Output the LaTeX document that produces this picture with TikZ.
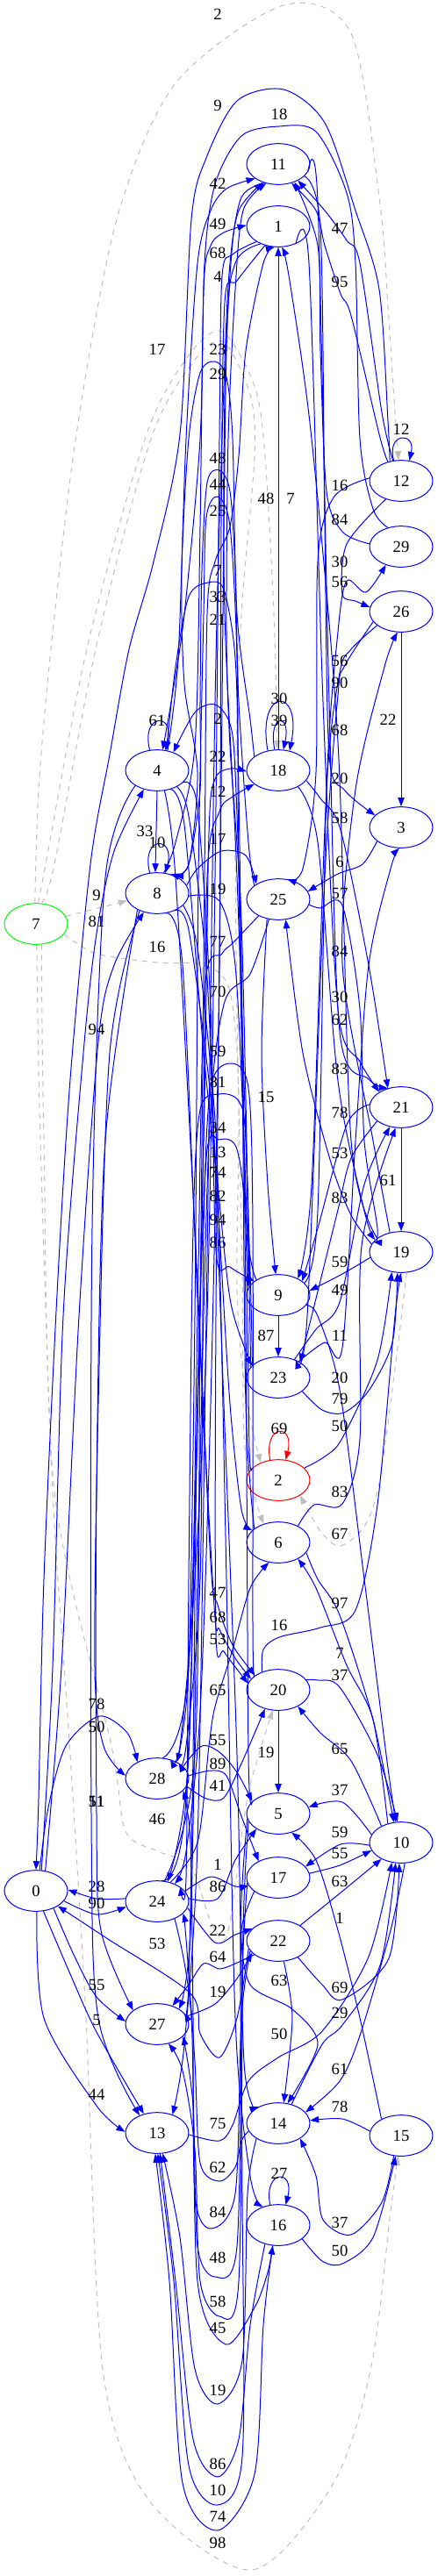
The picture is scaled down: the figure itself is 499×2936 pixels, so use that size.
\documentclass[tikz,border=0pt]{standalone}
\usepackage{fontspec}
\setmainfont{Liberation Serif}
\usetikzlibrary{shapes.geometric,arrows.meta}
\begin{document}
\begin{tikzpicture}[x=0.75pt,y=-0.75pt,
  st/.style={ellipse,draw=blue,line width=0.75pt,minimum width=54pt,minimum height=35pt,inner sep=0pt,font=\fontsize{14}{16}\selectfont},
  lb/.style={inner sep=0pt,font=\fontsize{14}{16}\selectfont},
  e/.style={draw=blue,line width=0.75pt,-{Triangle[length=7.5pt,width=5.5pt]}},
  g/.style={draw=black!25,line width=0.75pt,dash pattern=on 4.5pt off 4.5pt,-{Triangle[length=7.5pt,width=5.5pt]}},
]
\useasboundingbox (0,0) rectangle (499,2936);
% nodes
\node[st] (n11) at (317,187) {11};
\node[st] (n1) at (317,258) {1};
\node[st] (n12) at (457,548) {12};
\node[st] (n29) at (457,623) {29};
\node[st] (n26) at (457,697) {26};
\node[st] (n4) at (179,878) {4};
\node[st] (n18) at (317,878) {18};
\node[st] (n3) at (457,943) {3};
\node[st] (n8) at (179,1018) {8};
\node[st] (n25) at (317,1025) {25};
\node[st,draw=green] (n7) at (41,1053) {7};
\node[st] (n21) at (457,1262) {21};
\node[st] (n19) at (457,1427) {19};
\node[st] (n9) at (317,1476) {9};
\node[st] (n23) at (317,1570) {23};
\node[st,draw=red] (n2) at (317,1687) {2};
\node[st] (n6) at (317,1758) {6};
\node[st] (n20) at (317,1926) {20};
\node[st] (n28) at (179,2027) {28};
\node[st] (n5) at (317,2067) {5};
\node[st] (n10) at (457,2100) {10};
\node[st] (n17) at (317,2140) {17};
\node[st] (n0) at (41,2155) {0};
\node[st] (n24) at (179,2167) {24};
\node[st] (n22) at (317,2212) {22};
\node[st] (n27) at (179,2307) {27};
\node[st] (n14) at (317,2420) {14};
\node[st] (n13) at (179,2431) {13};
\node[st] (n15) at (457,2434) {15};
\node[st] (n16) at (317,2536) {16};

% gray dashed edges
\draw[g] plot[smooth] coordinates {(n7.93) (44,900) (58,740) (87,495) (133,250) (200,95) (323,6) (400,38) (433,233) (442,350) (450,470) (n12.97)};
\draw[g] plot[smooth] coordinates {(n7.84) (52,985) (100,735) (167,495) (215,405) (253,378) (290,440) (302,520) (312,700) (n18.92)};
\draw[g] plot[smooth] coordinates {(n7.75) (62,985) (110,735) (172,500) (222,410) (255,390) (285,450) (290,520) (275,700) (268,900) (270,1150) (276,1450) (279,1650) (n6.128)};
\draw[g] (n7) -- (n8);
\draw[g] plot[smooth] coordinates {(n7.-20) (110,1087) (179,1097) (233,1100) (262,1130) (272,1250) (270,1470) (280,1590) (n2.135)};
\draw[g] plot[smooth] coordinates {(n7.-75) (50,1300) (62,1700) (127,1990) (143,2087) (180,2110) (217,2127) (240,2190) (257,2210) (268,2150) (283,2043) (n20.-105)};
\draw[g] plot[smooth] coordinates {(n7.-88) (46,1300) (60,1700) (80,2000) (98,2300) (117,2700) (170,2850) (287,2929) (380,2830) (423,2697) (445,2520) (n15.-98)};
\draw[g] plot[smooth] coordinates {(n19.-75) (450,1560) (432,1690) (415,1740) (387,1762) (365,1745) (n2.-35)};

% self loops
\draw[e] (n12.110) .. controls (440,492) and (474,492) .. (n12.68);
\draw[e] (n4.110) .. controls (160,812) and (200,812) .. (n4.68);
\draw[e] (n8.110) .. controls (160,952) and (200,952) .. (n8.68);
\draw[e] (n18.118) .. controls (292,782) and (345,782) .. (n18.60);
\draw[e] (n18.100) .. controls (305,812) and (332,812) .. (n18.76);
\draw[e,draw=red] (n2.112) .. controls (300,1622) and (336,1622) .. (n2.70);
\draw[e] (n16.112) .. controls (300,2472) and (336,2472) .. (n16.70);

% flat edges
\draw[e] (n4.-90) -- (n8.95);
\draw[e] (n26) -- (n3);
\draw[e] (n21) -- (n19);
\draw[e] plot[smooth] coordinates {(n25.-120) (298,1200) (305,1350) (n9.97)};
\draw[e] (n9) -- (n23);
\draw[e] (n20) -- (n5);
\draw[e] (n18) -- (n1);
\draw[e] plot[smooth] coordinates {(n17.-150) (275,2200) (285,2262) (333,2290) (362,2330) (n14.65)};
\draw[e] plot[smooth] coordinates {(n22.-75) (333,2300) (n14.75)};

% long top loops
\draw[e] plot[smooth] coordinates {(n12.120) (442,480) (432,330) (405,240) (370,140) (323,102) (270,115) (235,180) (218,250) (205,495) (175,640) (147,740) (125,860) (103,985) (80,1230) (65,1475) (50,1800) (44,2050) (n0.90)};
\draw[e] plot[smooth] coordinates {(n29.125) (425,580) (410,500) (405,300) (395,220) (360,150) (318,144) (275,155) (245,210) (233,300) (228,500) (210,700) (195,800) (n4.75)};

% column 3 edges
\draw[e] plot[smooth] coordinates {(n4.62) (203,750) (212,500) (225,300) (240,240) (258,215) (n11.-148)};
\draw[e] plot[smooth] coordinates {(n8.72) (200,960) (222,850) (228,600) (232,330) (240,280) (255,265) (n1.178)};
\draw[e] plot[smooth] coordinates {(n1.-145) (265,290) (253,315) (250,500) (245,1000) (236,1500) (222,1800) (205,1990) (n28.55)};
\draw[e] plot[smooth] coordinates {(n1.-125) (270,320) (256,345) (252,600) (250,1100) (240,1600) (228,1950) (212,2110) (n24.45)};
\draw[e] plot[smooth] coordinates {(n18.150) (285,820) (270,700) (265,500) (258,430) (245,412) (228,425) (215,500) (207,650) (210,780) (225,880) (215,985) (n8.55)};
\draw[e] plot[smooth] coordinates {(n11.-125) (275,225) (262,300) (255,440) (245,800) (235,1500) (225,2100) (210,2330) (n13.50)};
\draw[e] plot[smooth] coordinates {(n25.150) (283,960) (272,800) (268,650) (262,560) (250,536) (236,550) (230,650) (228,800) (228,900) (215,985) (n8.45)};
\draw[e] plot[smooth] coordinates {(n9.145) (280,1380) (272,1000) (270,750) (262,600) (248,566) (235,590) (232,700) (226,1000) (222,1500) (215,1900) (n28.40)};
\draw[e] plot[smooth] coordinates {(n24.70) (222,2000) (228,1500) (233,1000) (236,700) (245,640) (262,600) (272,520) (280,400) (300,300) (n1.-100)};
\draw[e] plot[smooth] coordinates {(n6.150) (280,1600) (276,1200) (272,900) (268,750) (255,672) (237,664) (215,680) (200,760) (n4.65)};
\draw[e] plot[smooth] coordinates {(n23.155) (285,1450) (270,1000) (256,700) (256,450) (263,300) (272,240) (n11.-130)};
\draw[e] plot[smooth] coordinates {(n9.160) (283,1400) (275,1050) (262,850) (258,720) (260,500) (268,330) (277,240) (n11.-122)};
\draw[e] plot[smooth] coordinates {(n5.155) (283,2000) (280,1500) (275,1100) (268,880) (262,825) (245,803) (222,812) (n4.48)};
\draw[e] plot[smooth] coordinates {(n28.75) (215,1900) (232,1300) (238,950) (245,888) (262,876) (n18.182)};
\draw[e] plot[smooth] coordinates {(n24.78) (212,2050) (230,1400) (236,1000) (250,925) (265,908) (n18.-150)};
\draw[e] plot[smooth] coordinates {(n8.15) (225,990) (252,970) (280,975) (n25.145)};
\draw[e] plot[smooth] coordinates {(n8.-5) (250,1027) (268,1100) (278,1300) (n9.165)};
\draw[e] plot[smooth] coordinates {(n25.-140) (265,1075) (253,1087) (233,1130) (225,1500) (215,2000) (n24.62)};
\draw[e] plot[smooth] coordinates {(n25.-115) (285,1110) (255,1145) (238,1300) (225,1800) (217,2200) (n27.35)};
\draw[e] plot[smooth] coordinates {(n20.150) (288,1850) (288,1400) (283,1240) (263,1212) (240,1240) (232,1400) (228,1800) (212,1990) (n28.35)};
\draw[e] plot[smooth] coordinates {(n23.160) (285,1520) (280,1300) (272,1255) (250,1247) (228,1265) (220,1400) (215,1800) (212,2140) (n24.32)};
\draw[e] plot[smooth] coordinates {(n2.155) (284,1650) (280,1400) (270,1310) (250,1299) (235,1320) (225,1600) (220,2000) (215,2260) (n27.22)};
\draw[e] plot[smooth] coordinates {(n4.-40) (215,930) (235,1100) (245,1327) (255,1600) (270,2000) (278,2350) (n14.140)};
\draw[e] plot[smooth] coordinates {(n4.-55) (210,940) (232,1200) (248,1350) (262,1480) (280,1540) (n23.155)};
\draw[e] plot[smooth] coordinates {(n8.-25) (225,1080) (243,1250) (249,1377) (258,1800) (268,2300) (285,2480) (n16.130)};
\draw[e] plot[smooth] coordinates {(n8.-45) (215,1060) (240,1250) (250,1404) (262,1600) (275,1720) (n6.155)};
\draw[e] plot[smooth] coordinates {(n4.-25) (225,920) (240,1150) (246,1425) (262,1444) (n9.150)};
\draw[e] plot[smooth] coordinates {(n4.-70) (200,1000) (222,1400) (240,1780) (248,1829) (265,1875) (n20.148)};
\draw[e] plot[smooth] coordinates {(n8.-65) (208,1100) (226,1500) (244,1830) (250,1857) (268,1890) (n20.158)};
\draw[e] plot[smooth] coordinates {(n1.-135) (268,300) (258,400) (252,900) (246,1500) (246,1860) (255,1882) (272,1905) (n20.168)};
\draw[e] plot[smooth] coordinates {(n24.55) (225,2100) (238,1990) (245,1945) (265,1880) (285,1810) (n6.-115)};
\draw[e] plot[smooth] coordinates {(n28.25) (230,1990) (250,1997) (270,2020) (n5.155)};
\draw[e] plot[smooth] coordinates {(n28.5) (240,2018) (258,2024) (275,2070) (n17.140)};
\draw[e] plot[smooth] coordinates {(n28.-15) (235,2050) (255,2049) (275,2010) (n20.-125)};
\draw[e] plot[smooth] coordinates {(n24.20) (240,2139) (268,2150) (n17.-165)};
\draw[e] plot[smooth] coordinates {(n24.5) (248,2164) (268,2120) (n5.-145)};
\draw[e] plot[smooth] coordinates {(n24.-12) (245,2214) (268,2205) (n22.155)};
\draw[e] plot[smooth] coordinates {(n22.-150) (268,2238) (250,2244) (232,2238) (215,2262) (n27.50)};
\draw[e] plot[smooth] coordinates {(n27.15) (245,2284) (270,2255) (n22.-155)};
\draw[e] plot[smooth] coordinates {(n22.-165) (270,2300) (250,2345) (228,2318) (217,2272) (123,2210) (n0.-35)};
\draw[e] plot[smooth] coordinates {(n13.-3) (250,2440) (265,2422) (283,2372) (317,2345) (367,2315) (420,2230) (n10.-115)};
\draw[e] plot[smooth] coordinates {(n14.-165) (275,2440) (268,2470) (250,2486) (228,2465) (222,2350) (212,2210) (n24.-25)};
\draw[e] plot[smooth] coordinates {(n22.-160) (275,2300) (268,2500) (240,2540) (222,2500) (220,2300) (217,2100) (n28.-25)};
\draw[e] plot[smooth] coordinates {(n17.-170) (276,2250) (270,2560) (245,2595) (225,2560) (220,2400) (n27.-25)};
\draw[e] plot[smooth] coordinates {(n5.-165) (277,2200) (272,2600) (250,2640) (228,2600) (222,2450) (208,2360) (n27.-60)};
\draw[e] plot[smooth] coordinates {(n24.-45) (218,2300) (225,2600) (257,2672) (290,2630) (305,2590) (n16.-105)};
\draw[e] plot[smooth] coordinates {(n14.-145) (282,2500) (276,2690) (248,2740) (222,2700) (205,2550) (n13.-75)};
\draw[e] plot[smooth] coordinates {(n16.-125) (285,2650) (272,2780) (248,2823) (220,2780) (200,2600) (n13.-82)};
\draw[e] plot[smooth] coordinates {(n5.-170) (274,2200) (276,2500) (276,2800) (248,2855) (215,2810) (198,2600) (n13.-88)};
\draw[e] plot[smooth] coordinates {(n16.-105) (300,2650) (290,2820) (248,2884) (208,2830) (193,2600) (n13.-95)};

% column 1 edges
\draw[e] plot[smooth] coordinates {(n0.75) (60,1900) (72,1500) (95,1200) (110,1064) (130,970) (n4.-125)};
\draw[e] plot[smooth] coordinates {(n0.65) (70,1900) (90,1500) (112,1187) (130,1100) (n8.-125)};
\draw[e] plot[smooth] coordinates {(n0.80) (55,2060) (75,1990) (113,1956) (145,1975) (n28.140)};
\draw[e] plot[smooth] coordinates {(n8.-135) (125,1200) (112,1600) (108,1900) (118,1990) (n28.175)};
\draw[e] plot[smooth] coordinates {(n8.-140) (120,1300) (110,1700) (110,2067) (115,2200) (n27.150)};
\draw[e] plot[smooth] coordinates {(n4.-145) (120,1000) (105,1400) (104,2067) (112,2300) (n13.135)};
\draw[e] plot[smooth] coordinates {(n24.175) (110,2164) (n0.2)};
\draw[e] plot[smooth] coordinates {(n0.-20) (110,2182) (n24.-170)};
\draw[e] plot[smooth] coordinates {(n0.-45) (85,2230) (110,2276) (n27.175)};
\draw[e] plot[smooth] coordinates {(n0.-70) (80,2250) (110,2316) (n13.125)};
\draw[e] plot[smooth] coordinates {(n0.-88) (50,2300) (110,2400) (n13.178)};

% column 5 edges
\draw[e] plot[smooth] coordinates {(n12.112) (435,470) (410,300) (395,274) (370,240) (n11.-40)};
\draw[e] plot[smooth] coordinates {(n12.125) (432,495) (400,360) (388,335) (370,280) (360,240) (n11.-55)};
\draw[e] plot[smooth] coordinates {(n12.175) (380,567) (362,640) (360,880) (345,990) (n25.65)};
\draw[e] plot[smooth] coordinates {(n29.175) (390,606) (372,560) (365,400) (362,280) (n11.-48)};
\draw[e] plot[smooth] coordinates {(n9.25) (362,1380) (372,900) (385,720) (395,662) (417,675) (n29.-130)};
\draw[e] plot[smooth] coordinates {(n12.-130) (395,620) (390,677) (405,685) (n26.172)};
\draw[e] plot[smooth] coordinates {(n26.-150) (400,740) (387,767) (372,900) (355,1350) (n9.40)};
\draw[e] plot[smooth] coordinates {(n26.-160) (392,760) (385,792) (370,1000) (350,1500) (n23.45)};
\draw[e] plot[smooth] coordinates {(n19.150) (400,1300) (385,846) (355,500) (330,320) (n1.-80)};
\draw[e] plot[smooth] coordinates {(n11.-25) (365,260) (370,600) (375,860) (393,901) (n3.155)};
\draw[e] plot[smooth] coordinates {(n18.-20) (365,910) (388,946) (420,1100) (n21.125)};
\draw[e] plot[smooth] coordinates {(n3.-150) (413,985) (385,996) (n25.15)};
\draw[e] plot[smooth] coordinates {(n25.-10) (365,1035) (390,1032) (410,1150) (415,1300) (430,1400) (n19.160)};
\draw[e] plot[smooth] coordinates {(n19.120) (425,1300) (390,1098) (405,900) (438,760) (n26.-100)};
\draw[e] plot[smooth] coordinates {(n1.-45) (352,300) (368,800) (385,1150) (410,1210) (n21.145)};
\draw[e] plot[smooth] coordinates {(n11.-15) (362,230) (375,800) (387,1176) (420,1230) (n21.125)};
\draw[e] plot[smooth] coordinates {(n18.-40) (362,960) (385,1232) (415,1380) (n19.155)};
\draw[e] plot[smooth] coordinates {(n21.175) (395,1282) (362,1400) (n9.30)};
\draw[e] plot[smooth] coordinates {(n19.165) (400,1385) (377,1325) (345,1200) (n25.-70)};
\draw[e] plot[smooth] coordinates {(n21.-150) (400,1320) (385,1379) (360,1480) (n23.35)};
\draw[e] plot[smooth] coordinates {(n19.-170) (390,1452) (n9.8)};
\draw[e] plot[smooth] coordinates {(n23.48) (360,1515) (387,1484) (415,1350) (n21.-120)};
\draw[e] plot[smooth] coordinates {(n23.38) (370,1530) (390,1536) (405,1300) (420,1100) (445,990) (n3.-95)};
\draw[e] plot[smooth] coordinates {(n9.-20) (362,1500) (387,1584) (415,1800) (440,2000) (n10.105)};
\draw[e] plot[smooth] coordinates {(n23.-30) (367,1607) (392,1610) (420,1585) (447,1530) (n19.-100)};
\draw[e] plot[smooth] coordinates {(n2.25) (370,1660) (390,1639) (430,1550) (n19.-115)};
\draw[e] plot[smooth] coordinates {(n6.40) (358,1715) (390,1714) (410,1640) (412,1420) (n21.-105)};
\draw[e] plot[smooth] coordinates {(n20.132) (300,1880) (318,1866) (365,1855) (405,1835) (430,1715) (450,1500) (n19.-90)};
\draw[e] plot[smooth] coordinates {(n6.-20) (362,1800) (387,1841) (425,1960) (n10.110)};
\draw[e] plot[smooth] coordinates {(n10.125) (425,1960) (395,1898) (360,1810) (n6.-40)};
\draw[e] plot[smooth] coordinates {(n20.20) (362,1915) (387,1923) (430,2000) (n10.100)};
\draw[e] plot[smooth] coordinates {(n10.140) (400,2007) (365,1975) (n20.-40)};
\draw[e] plot[smooth] coordinates {(n10.165) (390,2054) (n5.12)};
\draw[e] plot[smooth] coordinates {(n10.-175) (388,2102) (n17.22)};
\draw[e] plot[smooth] coordinates {(n17.8) (387,2126) (n10.-165)};
\draw[e] plot[smooth] coordinates {(n22.35) (387,2158) (n10.-140)};
\draw[e] plot[smooth] coordinates {(n15.140) (410,2300) (385,2200) (360,2120) (n5.-55)};
\draw[e] plot[smooth] coordinates {(n22.-40) (367,2262) (390,2279) (443,2232) (n10.-95)};
\draw[e] plot[smooth] coordinates {(n14.55) (367,2330) (390,2308) (433,2240) (n10.-105)};
\draw[e] plot[smooth] coordinates {(n10.-80) (445,2200) (410,2320) (387,2372) (n14.22)};
\draw[e] plot[smooth] coordinates {(n15.172) (390,2415) (n14.5)};
\draw[e] plot[smooth] coordinates {(n15.-110) (435,2510) (400,2547) (368,2530) (360,2480) (n14.-35)};
\draw[e] plot[smooth] coordinates {(n16.-30) (367,2577) (390,2580) (425,2550) (n15.-105)};

% labels
\node[lb] (t1) at (248,16) {2};
\node[lb] (t2) at (248,120) {9};
\node[lb] (t3) at (318,130) {18};
\node[lb] (t4) at (248,209) {42};
\node[lb] (t5) at (248,255) {49};
\node[lb] (t6) at (387,260) {47};
\node[lb] (t7) at (248,288) {68};
\node[lb] (t8) at (248,315) {4};
\node[lb] (t9) at (387,321) {95};
\node[lb] (t10) at (179,398) {17};
\node[lb] (t11) at (248,398) {23};
\node[lb] (t12) at (248,426) {29};
\node[lb] (t13) at (457,489) {12};
\node[lb] (t14) at (248,522) {48};
\node[lb] (t15) at (248,552) {44};
\node[lb] (t16) at (248,582) {25};
\node[lb] (t17) at (303,568) {48};
\node[lb] (t18) at (331,568) {7};
\node[lb] (t19) at (387,553) {16};
\node[lb] (t20) at (387,592) {84};
\node[lb] (t21) at (387,640) {30};
\node[lb] (t22) at (387,663) {56};
\node[lb] (t23) at (248,650) {7};
\node[lb] (t24) at (248,680) {33};
\node[lb] (t25) at (248,706) {21};
\node[lb] (t26) at (387,753) {56};
\node[lb] (t27) at (387,778) {90};
\node[lb] (t28) at (318,796) {30};
\node[lb] (t29) at (318,821) {39};
\node[lb] (t30) at (179,821) {61};
\node[lb] (t31) at (248,819) {2};
\node[lb] (t32) at (442,820) {22};
\node[lb] (t33) at (387,832) {68};
\node[lb] (t34) at (248,862) {22};
\node[lb] (t35) at (387,887) {20};
\node[lb] (t36) at (248,902) {12};
\node[lb] (t37) at (387,932) {58};
\node[lb] (t38) at (165,947) {33};
\node[lb] (t39) at (179,960) {10};
\node[lb] (t40) at (248,956) {17};
\node[lb] (t41) at (387,982) {6};
\node[lb] (t42) at (248,1013) {19};
\node[lb] (t43) at (387,1018) {57};
\node[lb] (t44) at (110,1020) {9};
\node[lb] (t45) at (110,1050) {81};
\node[lb] (t46) at (248,1073) {77};
\node[lb] (t47) at (179,1079) {16};
\node[lb] (t48) at (387,1084) {84};
\node[lb] (t49) at (248,1130) {70};
\node[lb] (t50) at (387,1136) {30};
\node[lb] (t51) at (387,1162) {62};
\node[lb] (t52) at (110,1173) {94};
\node[lb] (t53) at (248,1198) {59};
\node[lb] (t54) at (387,1218) {83};
\node[lb] (t55) at (248,1233) {81};
\node[lb] (t56) at (303,1250) {15};
\node[lb] (t57) at (387,1268) {78};
\node[lb] (t58) at (248,1285) {34};
\node[lb] (t59) at (248,1313) {13};
\node[lb] (t60) at (387,1314) {53};
\node[lb] (t61) at (248,1336) {74};
\node[lb] (t62) at (442,1345) {61};
\node[lb] (t63) at (248,1363) {82};
\node[lb] (t64) at (387,1365) {83};
\node[lb] (t65) at (248,1390) {94};
\node[lb] (t66) at (248,1416) {86};
\node[lb] (t67) at (387,1438) {59};
\node[lb] (t68) at (387,1470) {49};
\node[lb] (t69) at (303,1522) {87};
\node[lb] (t70) at (387,1522) {11};
\node[lb] (t71) at (387,1570) {20};
\node[lb] (t72) at (387,1594) {79};
\node[lb] (t73) at (318,1628) {69};
\node[lb] (t74) at (387,1625) {50};
\node[lb] (t75) at (387,1700) {83};
\node[lb] (t76) at (387,1748) {67};
\node[lb] (t77) at (248,1815) {47};
\node[lb] (t78) at (387,1827) {97};
\node[lb] (t79) at (248,1843) {68};
\node[lb] (t80) at (318,1852) {16};
\node[lb] (t81) at (248,1868) {53};
\node[lb] (t82) at (387,1884) {7};
\node[lb] (t83) at (387,1909) {37};
\node[lb] (t84) at (248,1926) {65};
\node[lb] (t85) at (110,1942) {78};
\node[lb] (t86) at (110,1968) {50};
\node[lb] (t87) at (248,1983) {55};
\node[lb] (t88) at (387,1993) {65};
\node[lb] (t89) at (303,1997) {19};
\node[lb] (t90) at (248,2010) {89};
\node[lb] (t91) at (248,2035) {41};
\node[lb] (t92) at (387,2040) {37};
\node[lb] (t93) at (110,2053) {51};
\node[lb] (t94) at (110,2053) {11};
\node[lb] (t95) at (179,2073) {46};
\node[lb] (t96) at (387,2088) {59};
\node[lb] (t97) at (387,2112) {55};
\node[lb] (t98) at (248,2125) {1};
\node[lb] (t99) at (387,2144) {63};
\node[lb] (t100) at (110,2150) {28};
\node[lb] (t101) at (248,2150) {86};
\node[lb] (t102) at (110,2169) {90};
\node[lb] (t103) at (387,2186) {1};
\node[lb] (t104) at (248,2200) {22};
\node[lb] (t105) at (179,2215) {53};
\node[lb] (t106) at (248,2230) {64};
\node[lb] (t107) at (318,2257) {63};
\node[lb] (t108) at (110,2262) {55};
\node[lb] (t109) at (387,2265) {69};
\node[lb] (t110) at (248,2270) {19};
\node[lb] (t111) at (387,2294) {29};
\node[lb] (t112) at (110,2302) {5};
\node[lb] (t113) at (318,2318) {50};
\node[lb] (t114) at (387,2358) {61};
\node[lb] (t115) at (110,2387) {44};
\node[lb] (t116) at (387,2401) {78};
\node[lb] (t117) at (248,2420) {75};
\node[lb] (t118) at (248,2470) {62};
\node[lb] (t119) at (318,2477) {27};
\node[lb] (t120) at (248,2521) {84};
\node[lb] (t121) at (387,2533) {37};
\node[lb] (t122) at (387,2565) {50};
\node[lb] (t123) at (248,2573) {48};
\node[lb] (t124) at (248,2623) {58};
\node[lb] (t125) at (248,2653) {45};
\node[lb] (t126) at (248,2724) {19};
\node[lb] (t127) at (248,2808) {86};
\node[lb] (t128) at (248,2838) {10};
\node[lb] (t129) at (248,2868) {74};
\node[lb] (t130) at (248,2898) {98};
\end{tikzpicture}
\end{document}
